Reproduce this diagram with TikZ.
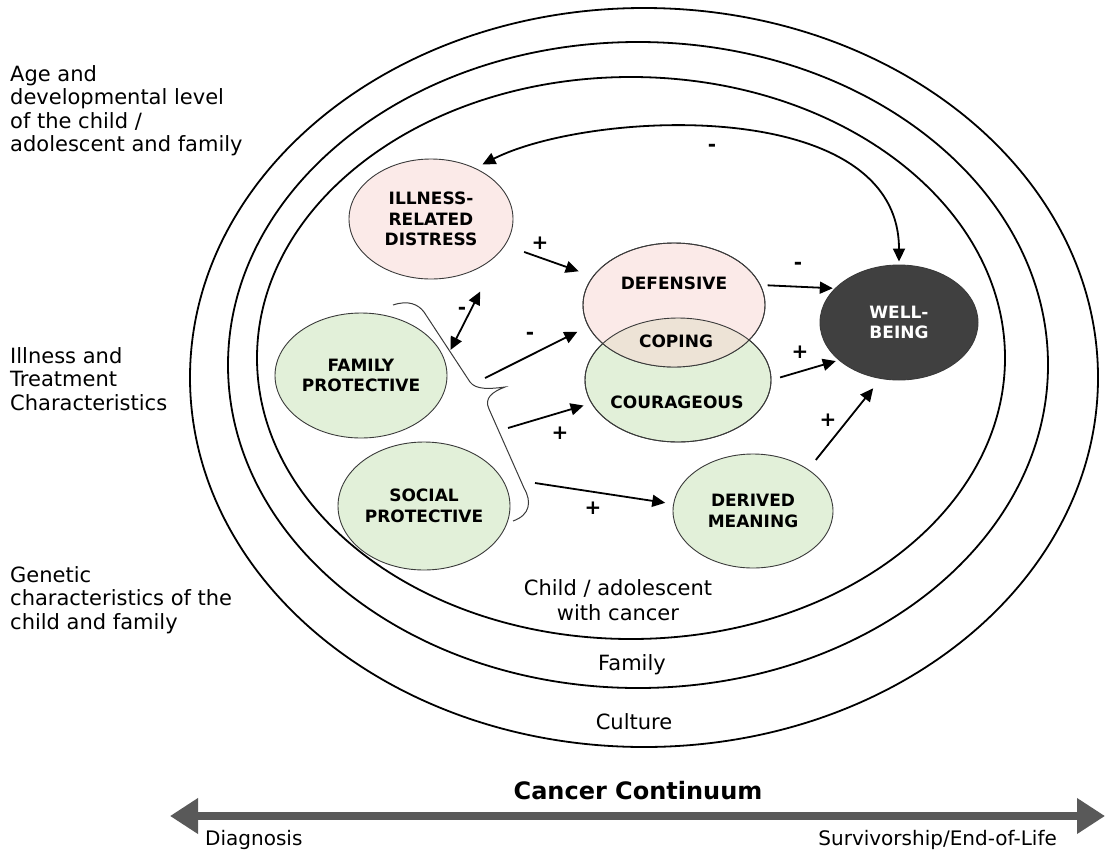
\documentclass[tikz,border=0pt]{standalone}
\usepackage{fontspec}
\setmainfont{DejaVu Sans}
\usetikzlibrary{arrows.meta,shapes.geometric}
\definecolor{pinkf}{HTML}{FBEAE8}
\definecolor{greenf}{HTML}{E2F0D9}
\definecolor{copef}{HTML}{EDE3D6}
\definecolor{wbf}{HTML}{404040}
\definecolor{bargray}{HTML}{595959}
\definecolor{edgec}{HTML}{3A3A3A}
\begin{document}
\begin{tikzpicture}[x=1pt,y=-1pt,
  ring/.style={draw=black,line width=1.8pt},
  bubble/.style={ellipse,draw=edgec,line width=0.9pt,inner sep=0pt,align=center,
    font=\bfseries\fontsize{17}{20.5}\selectfont},
  btext/.style={inner sep=0pt,align=center,font=\bfseries\fontsize{17}{20.5}\selectfont},
  lbl/.style={inner sep=0pt,font=\fontsize{21}{24}\selectfont},
  side/.style={inner sep=0pt,align=left,anchor=north west,font=\fontsize{21}{23.5}\selectfont},
  arr/.style={-{Triangle[length=13pt,width=12pt]},line width=1.8pt},
  darr/.style={{Triangle[length=13pt,width=12pt]}-{Triangle[length=13pt,width=12pt]},line width=1.8pt},
  sign/.style={inner sep=0pt,font=\bfseries\fontsize{20}{20}\selectfont},
]
\useasboundingbox (0,0) rectangle (1105,857);

% rings
\draw[ring] (644,377.5) ellipse (454 and 369.5);
\draw[ring] (638,365) ellipse (410 and 323);
\draw[ring] (631,358) ellipse (374 and 281);

% side labels
\node[side] (age) at (10,65) {Age and\\developmental level\\of the child /\\adolescent and family};
\node[side] (ill) at (10,347) {Illness and\\Treatment\\Characteristics};
\node[side] (gen) at (10,566) {Genetic\\characteristics of the\\child and family};

% ring labels
\node[lbl,align=center,font=\fontsize{21}{25}\selectfont] (child) at (618,600) {Child / adolescent\\with cancer};
\node[lbl] (fam) at (632,665) {Family};
\node[lbl] (cul) at (634,722) {Culture};

% bubbles
\node[bubble,fill=pinkf,minimum width=164pt,minimum height=120pt] (ird) at (431,219) {ILLNESS-\\RELATED\\DISTRESS};
\node[bubble,fill=greenf,minimum width=172pt,minimum height=125pt] (fp) at (361,375.5) {FAMILY\\PROTECTIVE};
\node[bubble,fill=greenf,minimum width=172pt,minimum height=128pt] (sp) at (424,506) {SOCIAL\\PROTECTIVE};
\node[bubble,fill=greenf,minimum width=186pt,minimum height=124pt] (cour) at (678,380) {};
\node[bubble,fill=pinkf,minimum width=182pt,minimum height=124pt] (def) at (674,305) {};
\begin{scope}
  \clip (674,305) ellipse (91 and 62);
  \fill[copef] (678,380) ellipse (93 and 62);
\end{scope}
\draw[draw=edgec,line width=0.9pt] (674,305) ellipse (91 and 62);
\draw[draw=edgec,line width=0.9pt] (678,380) ellipse (93 and 62);
\node[btext] (deft) at (674,283) {DEFENSIVE};
\node[btext] (copt) at (676,341) {COPING};
\node[btext] (court) at (677,402) {COURAGEOUS};
\node[bubble,fill=greenf,minimum width=160pt,minimum height=114pt] (dm) at (753,511) {DERIVED\\MEANING};
\node[bubble,fill=wbf,text=white,minimum width=158pt,minimum height=115pt] (wb) at (899,322.5) {WELL-\\BEING};

% brace
\draw[draw=edgec,line width=1pt] (393,305) .. controls (408,300) and (418,304) .. (424,312)
  -- (470,382) .. controls (476,390) and (490,389) .. (505,387)
  .. controls (492,392) and (484,398) .. (489,409)
  -- (524,488) .. controls (532,502) and (530,515) .. (513,521);

% arrows
\coordinate (b1) at (485,378);
\coordinate (b2) at (508,428);
\coordinate (b3) at (535,483);
\draw[arr,shorten <=20pt,shorten >=15pt] (ird) -- (def);
\draw[darr,shorten <=45pt,shorten >=12pt] (ird.-25) -- (fp.10);
\draw[arr,shorten >=12pt] (b1) -- (def.194);
\draw[arr,shorten >=8pt] (b2) -- (cour.195);
\draw[arr,shorten >=8pt] (b3) -- (dm.175);
\draw[arr,shorten <=7pt,shorten >=2pt] (def.13) -- (wb.152);
\draw[arr,shorten <=9pt,shorten >=3pt] (cour.east) -- (wb.-148);
\draw[arr,shorten <=12pt,shorten >=12pt] (dm.37) -- (wb.-108);
\draw[darr,shorten <=8pt,shorten >=3pt] (ird.49) .. controls (590,110) and (899,95) .. (wb.north);

% signs
\node[sign] (s1) at (540,243) {+};
\node[sign] (s2) at (462,311) {-};
\node[sign] (s3) at (530,336) {-};
\node[sign] (s4) at (560,433) {+};
\node[sign] (s5) at (593,508) {+};
\node[sign] (s6) at (798,266) {-};
\node[sign] (s7) at (800,352) {+};
\node[sign] (s8) at (828,420) {+};
\node[sign] (s9) at (712,148) {-};

% cancer continuum
\coordinate (cl) at (170,816);
\coordinate (cr) at (1105,816);
\draw[bargray,line width=8pt,{Triangle[length=28pt,width=34pt]}-{Triangle[length=28pt,width=34pt]}] (cl) -- (cr);
\node[inner sep=0pt,font=\bfseries\fontsize{24}{24}\selectfont] (cc) at (638,791) {Cancer Continuum};
\node[inner sep=0pt,anchor=west,font=\fontsize{20}{20}\selectfont] (dg) at (205,840) {Diagnosis};
\node[inner sep=0pt,anchor=east,font=\fontsize{20}{20}\selectfont] (sv) at (1057,840) {Survivorship/End-of-Life};
\end{tikzpicture}
\end{document}
